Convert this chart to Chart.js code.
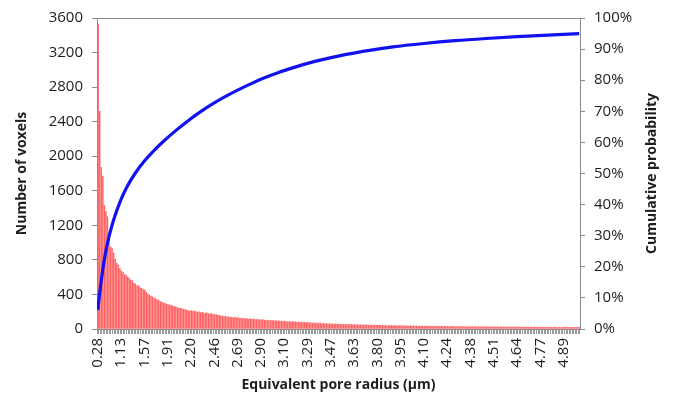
<!DOCTYPE html>
<html>
<head>
<meta charset="utf-8">
<script src="https://cdn.jsdelivr.net/npm/chart.js@4"></script>
<style>
  html, body { margin: 0; padding: 0; background: #fff; }
  #wrap { width: 674px; height: 401px; position: relative; }
</style>
</head>
<body>
<div id="wrap"><canvas id="c" width="674" height="401"></canvas></div>
<script>
// ---- data ----
// visible x tick labels (every 15th category)
const tickLabels = ['0.28','1.13','1.57','1.91','2.20','2.46','2.69','2.90','3.10','3.29','3.47',
  '3.63','3.80','3.95','4.10','4.24','4.38','4.51','4.64','4.77','4.89'];
const tickEvery = 15;
const voxelRadius = 0.2821; // µm, radius step of category n is voxelRadius*sqrt(n)

// number of voxels per category (bars)
const voxelCounts = [
  3530,2520,1870,1770,1430,1360,1300,1110,950,930,
  880,810,760,740,700,670,655,630,625,600,
  590,565,560,528,522,500,502,478,472,455,
  452,425,405,392,380,372,356,352,338,336,
  318,312,302,301,288,287,276,278,266,262,
  257,248,246,238,236,226,224,216,214,208,
  213,204,209,198,197,199,188,193,185,183,
  186,176,177,179,171,166,168,158,160,150,
  153,144,149,139,143,135,139,129,134,127,
  131,123,127,119,123,117,122,114,118,111,
  115,109,113,105,109,103,108,99,104,97,
  101,95,100,93,97,91,96,88,92,86,
  91,85,83,89,81,86,79,84,77,82,
  75,80,73,78,71,76,69,74,67,72,
  65,70,63,68,61,66,60,64,58,63,
  57,61,55,60,54,58,52,57,51,55,
  50,54,49,53,48,52,47,51,46,50,
  45,49,44,48,43,47,42,46,41,45,
  41,44,40,43,39,43,38,42,37,41,
  37,40,36,40,35,39,35,38,34,38,
  34,37,33,37,32,36,32,35,31,35,
  31,34,30,34,30,33,29,33,29,32,
  29,32,28,32,28,31,27,31,27,30,
  27,30,26,30,26,29,25,29,25,28,
  25,28,24,28,24,27,24,27,23,27,
  24,27,23,26,23,26,22,26,22,25,
  22,25,21,25,21,24,21,24,20,24,
  21,24,20,23,20,23,19,23,19,22,
  20,23,19,22,19,22,18,22,18,21,
  19,22,18,21,18,21,17,21,17,20,
  19,21,18,20,18,20,17,20,17,19,
  18
];

// cumulative probability (%), at category indices
const cumIndex = [0, 1, 2, 3, 4, 6, 8, 11, 15, 19, 24, 30, 36, 42, 50, 58, 66, 75, 85, 95, 105, 116, 127, 138, 148, 160, 175, 190, 210, 230, 250, 270, 290, 310];
const cumPct   = [6.1, 10.6, 14.6, 18.3, 21.7, 27.0, 31.2, 36.3, 41.7, 45.9, 50.0, 54.0, 57.3, 60.2, 63.7, 66.9, 69.8, 72.7, 75.5, 78.0, 80.3, 82.4, 84.2, 85.8, 87.0, 88.3, 89.6, 90.7, 91.8, 92.7, 93.4, 94.0, 94.5, 95.0];

// ---- build chart ----
const N = voxelCounts.length;
const categories = voxelCounts.map((_, i) => (voxelRadius * Math.sqrt(i + 1)).toFixed(2));
const cumPoints = cumIndex.map((x, k) => ({ x: x, y: cumPct[k] }));

const AXIS = '#8a8a8a';
const TXT = '#1e1e1e';
const FAM = '"Open Sans", "DejaVu Sans", sans-serif';
const rightTitle = 'Cumulative probability';

const frame = {
  id: 'frame',
  afterDatasetsDraw(chart) {
    const { ctx, chartArea: a } = chart;
    ctx.save();
    ctx.strokeStyle = AXIS;
    ctx.lineWidth = 1;
    ctx.beginPath();
    ctx.moveTo(a.left, a.top + 0.5);
    ctx.lineTo(a.right, a.top + 0.5);
    ctx.stroke();
    ctx.restore();
  },
  afterDraw(chart) {
    // right-hand axis title, reading bottom to top like the left one
    const { ctx, chartArea: a, width } = chart;
    ctx.save();
    ctx.fillStyle = TXT;
    ctx.font = 'bold 14px ' + FAM;
    ctx.textAlign = 'center';
    ctx.textBaseline = 'middle';
    ctx.translate(width - 22, (a.top + a.bottom) / 2);
    ctx.rotate(-Math.PI / 2);
    ctx.fillText(rightTitle, 0, 0);
    ctx.restore();
  }
};

new Chart(document.getElementById('c'), {
  data: {
    labels: categories,
    datasets: [
      {
        type: 'line',
        label: 'Cumulative probability',
        data: cumPoints,
        xAxisID: 'xLine',
        yAxisID: 'y1',
        borderColor: '#1212f0',
        borderWidth: 3.2,
        pointRadius: 0,
        cubicInterpolationMode: 'monotone',
        fill: false,
        order: 0
      },
      {
        type: 'bar',
        label: 'Number of voxels',
        data: voxelCounts,
        xAxisID: 'x',
        yAxisID: 'y',
        backgroundColor: 'rgb(255,98,98)',
        borderWidth: 0,
        barPercentage: 1.0,
        categoryPercentage: 1.0,
        order: 1
      }
    ]
  },
  options: {
    responsive: false,
    animation: false,
    devicePixelRatio: 1,
    layout: { padding: { top: 10, left: 0, right: 0, bottom: 0 } },
    plugins: { legend: { display: false }, tooltip: { enabled: false } },
    scales: {
      x: {
        type: 'category',
        position: 'bottom',
        offset: true,
        border: { color: AXIS, width: 1 },
        grid: { display: true, drawOnChartArea: false, drawTicks: true, tickLength: 5, tickColor: '#9a9a9a', offset: true },
        ticks: {
          autoSkip: false, minRotation: 90, maxRotation: 90, padding: 4,
          color: TXT, font: { family: FAM, size: 15 },
          callback: (v, i) => (i % tickEvery === 0 ? tickLabels[i / tickEvery] : '')
        },
        title: { display: true, text: 'Equivalent pore radius (µm)', color: TXT,
                 font: { family: FAM, size: 14, weight: 'bold' }, padding: { top: 0, bottom: 8 } },
        afterFit: s => { s.height = 72; }
      },
      xLine: {
        type: 'linear', display: false, min: -0.5, max: N - 0.5
      },
      y: {
        position: 'left', min: 0, max: 3600,
        border: { color: AXIS, width: 1 },
        grid: { drawOnChartArea: false, drawTicks: true, tickLength: 5, tickColor: AXIS },
        ticks: { stepSize: 400, padding: 9, color: TXT, font: { family: FAM, size: 15 },
                 callback: v => String(v) },
        title: { display: true, text: 'Number of voxels', color: TXT,
                 font: { family: FAM, size: 14, weight: 'bold' }, padding: { top: 14, bottom: 0 } },
        afterFit: s => { s.width = 97; }
      },
      y1: {
        position: 'right', min: 0, max: 100,
        border: { color: AXIS, width: 1 },
        grid: { drawOnChartArea: false, drawTicks: true, tickLength: 5, tickColor: AXIS },
        ticks: { stepSize: 10, padding: 9, color: TXT, font: { family: FAM, size: 15 },
                 callback: v => v + '%' },
        title: { display: false },
        afterFit: s => { s.width = 94; }
      }
    }
  },
  plugins: [frame]
});
</script>
</body>
</html>
